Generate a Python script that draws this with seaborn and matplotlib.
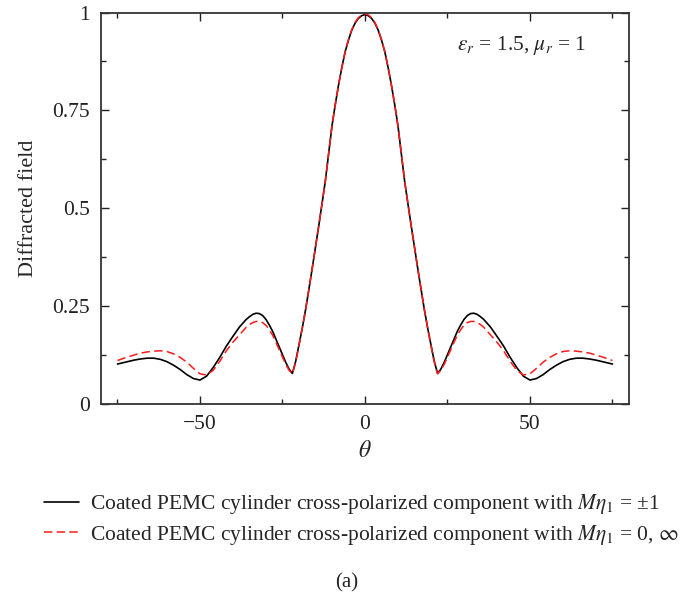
import numpy as np
import pandas as pd
import matplotlib
matplotlib.use("Agg")
import matplotlib.pyplot as plt
import seaborn as sns
from matplotlib.ticker import MultipleLocator

theta = [-75, -72, -70, -68, -66, -64, -62, -60, -58, -56, -54, -52, -50, -48, -46, -44,
         -42, -40, -38, -36, -35, -34, -33, -32, -31, -30, -29, -28, -27, -26, -25, -24,
         -23, -22, -21, -20, -19, -18, -17, -16, -15, -14, -13, -12, -11, -10, -9, -8,
         -7, -6, -5, -4, -3, -2, -1,
         0,
         1, 2, 3, 4, 5, 6, 7, 8, 9, 10, 11, 12, 13, 14, 15, 16, 17, 18, 19, 20, 21, 22,
         23, 24, 25, 26, 27, 28, 29, 30, 31, 32, 33, 34, 35, 36, 38, 40, 42, 44, 46, 48,
         50, 52, 54, 56, 58, 60, 62, 64, 66, 68, 70, 72, 75]

field_pm1 = [0.101, 0.107, 0.111, 0.114, 0.116, 0.116, 0.113, 0.107, 0.098, 0.087, 0.074,
             0.064, 0.060, 0.070, 0.092, 0.118, 0.147, 0.172, 0.196, 0.215, 0.222, 0.228,
             0.231, 0.230, 0.225, 0.215, 0.201, 0.185, 0.165, 0.145, 0.125, 0.105, 0.088,
             0.077, 0.108, 0.150, 0.193, 0.240, 0.292, 0.345, 0.400, 0.455, 0.512, 0.570,
             0.640, 0.710, 0.765, 0.815, 0.860, 0.900, 0.930, 0.955, 0.973, 0.985, 0.992,
             0.995,
             0.992, 0.985, 0.973, 0.955, 0.930, 0.900, 0.860, 0.815, 0.765, 0.710, 0.640,
             0.570, 0.512, 0.455, 0.400, 0.345, 0.292, 0.240, 0.193, 0.150, 0.108, 0.077,
             0.088, 0.105, 0.125, 0.145, 0.165, 0.185, 0.201, 0.215, 0.225, 0.230, 0.231,
             0.228, 0.222, 0.215, 0.196, 0.172, 0.147, 0.118, 0.092, 0.070, 0.060, 0.064,
             0.074, 0.087, 0.098, 0.107, 0.113, 0.116, 0.116, 0.114, 0.111, 0.107, 0.101]

field_0inf = [0.110, 0.119, 0.124, 0.129, 0.132, 0.134, 0.135, 0.133, 0.127, 0.118, 0.106,
              0.090, 0.076, 0.073, 0.085, 0.108, 0.135, 0.157, 0.176, 0.195, 0.202, 0.207,
              0.210, 0.210, 0.207, 0.200, 0.189, 0.175, 0.157, 0.138, 0.119, 0.100, 0.085,
              0.076, 0.106, 0.148, 0.193, 0.240, 0.292, 0.345, 0.400, 0.455, 0.512, 0.570,
              0.640, 0.710, 0.765, 0.815, 0.860, 0.900, 0.931, 0.956, 0.975, 0.987, 0.994,
              0.997,
              0.994, 0.987, 0.975, 0.956, 0.931, 0.900, 0.860, 0.815, 0.765, 0.710, 0.640,
              0.570, 0.512, 0.455, 0.400, 0.345, 0.292, 0.240, 0.193, 0.148, 0.106, 0.076,
              0.085, 0.100, 0.119, 0.138, 0.157, 0.175, 0.189, 0.200, 0.207, 0.210, 0.210,
              0.207, 0.202, 0.195, 0.176, 0.157, 0.135, 0.108, 0.085, 0.073, 0.076, 0.090,
              0.106, 0.118, 0.127, 0.133, 0.135, 0.134, 0.132, 0.129, 0.124, 0.119, 0.110]

labels = [r"Coated PEMC cylinder cross-polarized component with $M\eta_1$ = ±1",
          r"Coated PEMC cylinder cross-polarized component with $M\eta_1$ = 0, $\infty$"]
x_ticks = [-50, 0, 50]
x_tick_labels = ["\u221250", "0", "50"]
y_ticks = [0, 0.25, 0.5, 0.75, 1]
y_tick_labels = ["0", "0.25", "0.5", "0.75", "1"]

sns.set_style("ticks")
plt.rcParams["font.family"] = ["Liberation Serif", "DejaVu Serif"]
plt.rcParams["mathtext.fontset"] = "stix"
plt.rcParams["axes.unicode_minus"] = True

fig = plt.figure(figsize=(6.94, 5.98), dpi=100)
ax = fig.add_axes([0.1455, 0.3252, 0.7608, 0.6538])

df = pd.DataFrame({"theta": theta, "a": field_pm1, "b": field_0inf})
sns.lineplot(data=df, x="theta", y="a", ax=ax, color="black", lw=1.2, label=labels[0])
sns.lineplot(data=df, x="theta", y="b", ax=ax, color="#ff1a1a", lw=1.1,
             linestyle=(0, (5.5, 2.8)), label=labels[1])

ax.set_xlim(-80, 80)
ax.set_ylim(0, 1)
ax.set_xticks(x_ticks)
ax.set_xticklabels(x_tick_labels)
ax.xaxis.set_minor_locator(MultipleLocator(25))
ax.set_yticks(y_ticks)
ax.set_yticklabels(y_tick_labels)
ax.yaxis.set_minor_locator(MultipleLocator(0.125))
ax.tick_params(which="both", direction="in", top=True, right=True, labelsize=15.5,
               width=1.0, pad=8, colors="#222222", labelcolor="#222222")
ax.tick_params(which="major", length=6)
ax.tick_params(which="minor", length=3.5)
for s in ax.spines.values():
    s.set_linewidth(1.3)
    s.set_color("#333333")

ax.set_xlabel(r"$\theta$", fontsize=17, labelpad=5)
ax.set_ylabel("Diffracted field", fontsize=16, labelpad=10)

ax.text(0.92, 0.917, r"$\varepsilon_r$ = 1.5, $\mu_r$ = 1", transform=ax.transAxes,
        ha="right", va="center", fontsize=15.5)

ax.get_legend().remove()
h, l = ax.get_legend_handles_labels()
fig.legend(h, l, loc="upper left", bbox_to_anchor=(0.064, 0.177), frameon=False,
           fontsize=15.5, handlelength=1.6, handletextpad=0.5, labelspacing=0.3,
           borderpad=0, borderaxespad=0)

fig.text(0.5, 1 - 583 / 598, "(a)", ha="center", va="center", fontsize=15)

fig.savefig("out.png", dpi=100)
